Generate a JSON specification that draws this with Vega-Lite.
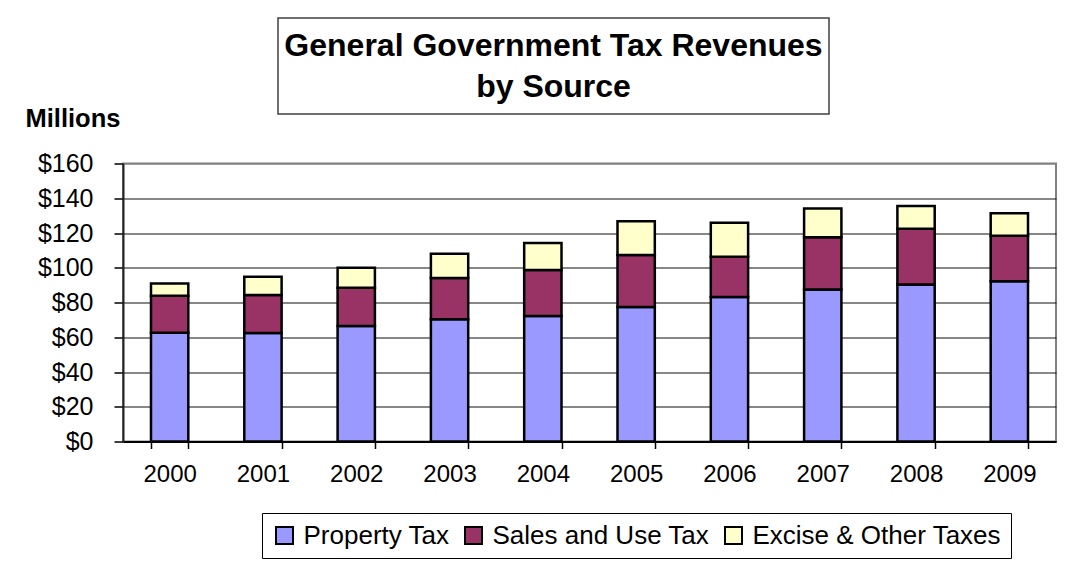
{
  "$schema": "https://vega.github.io/schema/vega-lite/v6.json",
  "autosize": {"type": "pad"},
  "padding": {"left": 24, "top": 17, "right": 0, "bottom": 0},
  "background": "white",
  "config": {"font": "Liberation Sans", "view": {"stroke": null}},
  "bounds": "flush",
  "spacing": 145.5,
  "vconcat": [
    {
      "bounds": "flush",
      "spacing": 0,
      "hconcat": [
        {
          "width": 155,
          "height": 96,
          "view": {"stroke": null},
          "data": {"values": [{"k": 0}]},
          "mark": {"type": "text"},
          "encoding": {"text": {"value": ""}}
        },
        {
          "width": 551,
          "height": 96,
          "view": {"stroke": "#404040", "strokeWidth": 1.5, "fill": "white"},
          "data": {"values": [{"k": 1}]},
          "mark": {"type": "text", "fontSize": 32, "fontWeight": "bold", "lineHeight": 41, "align": "center", "baseline": "middle", "dy": -20, "color": "black", "font": "Liberation Sans"},
          "encoding": {"text": {"value": ["General Government Tax Revenues", "by Source"]}}
        }
      ]
    },
    {
      "width": 933,
      "height": 278,
      "view": {"stroke": "#808080", "strokeWidth": 2},
      "data": {"values": [
        {"year": "2000", "source": "Property Tax", "value": 62.6},
        {"year": "2000", "source": "Sales and Use Tax", "value": 21.3},
        {"year": "2000", "source": "Excise & Other Taxes", "value": 7.1},
        {"year": "2001", "source": "Property Tax", "value": 62.5},
        {"year": "2001", "source": "Sales and Use Tax", "value": 21.8},
        {"year": "2001", "source": "Excise & Other Taxes", "value": 10.5},
        {"year": "2002", "source": "Property Tax", "value": 66.5},
        {"year": "2002", "source": "Sales and Use Tax", "value": 22.0},
        {"year": "2002", "source": "Excise & Other Taxes", "value": 11.5},
        {"year": "2003", "source": "Property Tax", "value": 70.3},
        {"year": "2003", "source": "Sales and Use Tax", "value": 23.8},
        {"year": "2003", "source": "Excise & Other Taxes", "value": 13.9},
        {"year": "2004", "source": "Property Tax", "value": 72.2},
        {"year": "2004", "source": "Sales and Use Tax", "value": 26.5},
        {"year": "2004", "source": "Excise & Other Taxes", "value": 15.5},
        {"year": "2005", "source": "Property Tax", "value": 77.4},
        {"year": "2005", "source": "Sales and Use Tax", "value": 29.9},
        {"year": "2005", "source": "Excise & Other Taxes", "value": 19.5},
        {"year": "2006", "source": "Property Tax", "value": 83.1},
        {"year": "2006", "source": "Sales and Use Tax", "value": 23.2},
        {"year": "2006", "source": "Excise & Other Taxes", "value": 19.6},
        {"year": "2007", "source": "Property Tax", "value": 87.5},
        {"year": "2007", "source": "Sales and Use Tax", "value": 30.1},
        {"year": "2007", "source": "Excise & Other Taxes", "value": 16.5},
        {"year": "2008", "source": "Property Tax", "value": 90.4},
        {"year": "2008", "source": "Sales and Use Tax", "value": 32.0},
        {"year": "2008", "source": "Excise & Other Taxes", "value": 13.2},
        {"year": "2009", "source": "Property Tax", "value": 92.3},
        {"year": "2009", "source": "Sales and Use Tax", "value": 26.1},
        {"year": "2009", "source": "Excise & Other Taxes", "value": 13.0}
      ]},
      "transform": [
        {"calculate": "indexof(['Property Tax','Sales and Use Tax','Excise & Other Taxes'], datum.source)", "as": "k"}
      ],
      "mark": {"type": "bar", "stroke": "black", "strokeWidth": 2.5},
      "encoding": {
        "x": {
          "field": "year", "type": "ordinal",
          "scale": {"paddingInner": 0.6, "paddingOuter": 0.3},
          "axis": {
            "title": null, "labelAngle": 0, "labelFontSize": 24, "labelColor": "black",
            "labelPadding": 14, "tickBand": "extent", "tickSize": 7, "tickColor": "black",
            "tickWidth": 1.5, "domainColor": "black", "domainWidth": 2, "grid": false
          }
        },
        "y": {
          "field": "value", "type": "quantitative", "stack": "zero",
          "scale": {"domain": [0, 160], "nice": false},
          "axis": {
            "orient": "left",
            "values": [0, 20, 40, 60, 80, 100, 120, 140, 160],
            "format": "$.0f",
            "labelFontSize": 25, "labelColor": "black", "labelPadding": 21,
            "tickSize": 9, "tickColor": "black", "tickWidth": 1.5,
            "domainColor": "#222222", "domainWidth": 2,
            "grid": true,
            "gridColor": {"condition": {"test": "datum.value === 160", "value": "#808080"}, "value": "#111111"},
            "gridWidth": 1.2,
            "title": "Millions", "titleAngle": 0, "titleAlign": "left", "titleBaseline": "alphabetic",
            "titleX": -98, "titleY": -37.5, "titleFontSize": 25.5, "titleFontWeight": "bold", "titleColor": "black"
          }
        },
        "color": {
          "field": "source", "type": "nominal",
          "scale": {
            "domain": ["Property Tax", "Sales and Use Tax", "Excise & Other Taxes"],
            "range": ["#9999FF", "#993366", "#FFFFCC"]
          },
          "legend": {
            "title": null, "orient": "none", "legendX": 139, "legendY": 495,
            "direction": "horizontal",
            "labelFontSize": 26, "labelColor": "black", "labelFont": "Liberation Sans", "labelLimit": 0,
            "symbolType": "square", "symbolSize": 289, "symbolStrokeColor": "black",
            "symbolStrokeWidth": 2, "symbolOpacity": 1,
            "labelOffset": 6, "columnPadding": 11, "padding": 9.5,
            "strokeColor": "black", "fillColor": "white"
          }
        },
        "order": {"field": "k", "type": "quantitative"}
      }
    }
  ]
}
